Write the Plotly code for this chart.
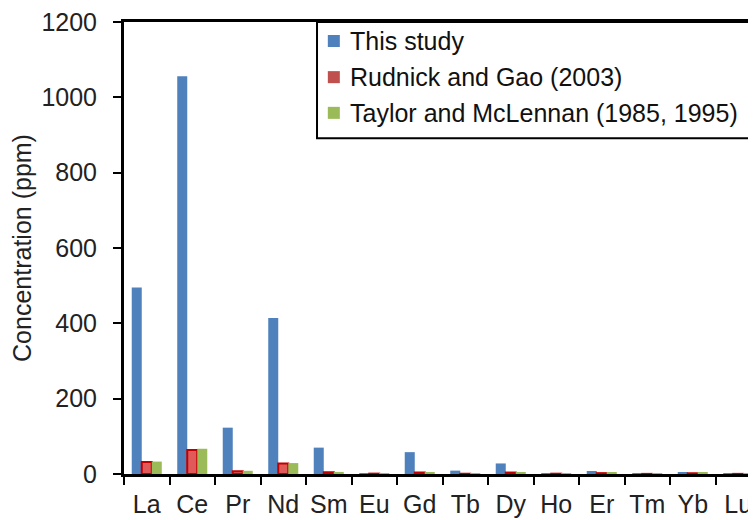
import plotly.graph_objects as go

elements = ["La", "Ce", "Pr", "Nd", "Sm", "Eu", "Gd", "Tb", "Dy", "Ho", "Er", "Tm", "Yb", "Lu"]
this_study = [495, 1056, 123, 414, 70, 2, 58, 9, 28, 2, 8, 1, 4, 1]
rudnick_gao = [32, 64, 7.1, 28, 4.7, 1.0, 4.0, 0.7, 3.9, 0.83, 2.3, 0.3, 2.0, 0.31]
taylor_mclennan = [33, 67, 8.5, 29, 5.5, 1.2, 5.0, 0.8, 4.5, 1.0, 3.0, 0.4, 3.0, 0.5]

series_names = ["This study", "Rudnick and Gao (2003)", "Taylor and McLennan (1985, 1995)"]
series_colors = ["#4F81BD", "#E05A5A", "#9BBB59"]

y_ticks = [0, 200, 400, 600, 800, 1000, 1200]

FONT = "Arial, Liberation Sans, sans-serif"
FS = 25

fig = go.Figure()
fig.add_bar(x=elements, y=this_study, name=series_names[0],
            marker=dict(color=series_colors[0], line=dict(width=0)))
fig.add_bar(x=elements, y=rudnick_gao, name=series_names[1],
            marker=dict(color=series_colors[1], line=dict(color="#C00000", width=2)))
fig.add_bar(x=elements, y=taylor_mclennan, name=series_names[2],
            marker=dict(color=series_colors[2], line=dict(width=0)))

# legend drawn by hand (boxed, small squares, tight spacing like the original)
fig.add_shape(type="rect", xref="paper", yref="paper",
              x0=0.3054, x1=1.06, y0=0.743, y1=1.0,
              line=dict(color="black", width=2), fillcolor="white", layer="above")
row_y = [0.958, 0.878, 0.799]
for name, color, yy in zip(series_names, ["#4F81BD", "#C0504D", "#9BBB59"], row_y):
    fig.add_shape(type="rect", xref="paper", yref="paper",
                  x0=0.3225, x1=0.3415, y0=yy - 0.0133, y1=yy + 0.0133,
                  line=dict(width=0), fillcolor=color, layer="above")
    fig.add_annotation(x=0.3544, y=yy, xref="paper", yref="paper",
                       text=name, showarrow=False, xanchor="left", yanchor="middle",
                       font=dict(size=FS, color="#111", family=FONT))

fig.update_layout(
    width=748, height=512,
    barmode="group", bargap=0.34, bargroupgap=0,
    plot_bgcolor="white", paper_bgcolor="white",
    margin=dict(l=116, r=0, t=14, b=46),
    font=dict(family=FONT, size=FS, color="#222"),
    showlegend=False,
    xaxis=dict(
        range=[-0.5, 13.39], showline=True, linecolor="black", linewidth=3,
        mirror=True, ticks="outside", tickson="boundaries", ticklen=8,
        tickwidth=2, tickcolor="black", showgrid=False, ticklabelstandoff=6,
        tickangle=0, automargin=False,
    ),
    yaxis=dict(
        range=[0, 1200], tickvals=y_ticks, showline=True, linecolor="black",
        linewidth=3, ticks="outside", ticklen=8, tickwidth=2, tickcolor="black",
        showgrid=False, zeroline=False, ticklabelstandoff=11,
        ticklabeloverflow="allow", automargin=False,
        title=dict(text="Concentration (ppm)", standoff=8, font=dict(size=FS)),
    ),
)

fig.write_html("out.html")
